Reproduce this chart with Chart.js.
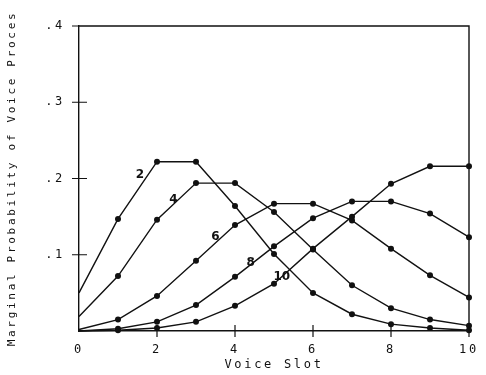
<!DOCTYPE html>
<html>
<head>
<meta charset="utf-8">
<script src="https://cdn.jsdelivr.net/npm/chart.js@4.4.1/dist/chart.umd.min.js"></script>
<style>
  html, body { margin: 0; padding: 0; background: #fff; }
  #wrap { width: 486px; height: 375px; position: relative; }
</style>
</head>
<body>
<div id="wrap"><canvas id="c" width="486" height="375"></canvas></div>
<script>
// ---- data ----
const slots = [0, 1, 2, 3, 4, 5, 6, 7, 8, 9, 10];
const seriesNames = ['2', '4', '6', '8', '10'];
const s2  = [0.050, 0.147, 0.222, 0.222, 0.164, 0.101, 0.050, 0.022, 0.009, 0.004, 0.001];
const s4  = [0.019, 0.072, 0.146, 0.194, 0.194, 0.156, 0.107, 0.060, 0.030, 0.015, 0.007];
const s6  = [0.002, 0.015, 0.046, 0.092, 0.139, 0.167, 0.167, 0.145, 0.108, 0.073, 0.044];
const s8  = [0.000, 0.003, 0.012, 0.034, 0.071, 0.111, 0.148, 0.170, 0.170, 0.154, 0.123];
const s10 = [0.000, 0.001, 0.004, 0.012, 0.033, 0.062, 0.108, 0.150, 0.193, 0.216, 0.216];
const xTicks = [0, 2, 4, 6, 8, 10];
const yTicks = [0.1, 0.2, 0.3, 0.4];
const xTitle = 'Voice Slot';
const yTitle = 'Marginal Probability of Voice Proces';

// label anchors for the curve labels (data coordinates)
const curveLabelX = [1.56, 2.42, 3.50, 4.40, 5.20];
const curveLabelY = [0.205, 0.172, 0.124, 0.089, 0.071];

const INK = '#111';
const allSeries = [s2, s4, s6, s8, s10];

const datasets = allSeries.map((vals, i) => ({
  label: seriesNames[i],
  data: slots.map((x, j) => ({ x: x, y: vals[j] })),
  borderColor: INK,
  backgroundColor: INK,
  borderWidth: 1.4,
  pointRadius: slots.map(x => x === 0 ? 0 : 3),
  pointBackgroundColor: INK,
  pointBorderColor: INK,
  pointBorderWidth: 0,
  tension: 0,
  clip: false
}));

const spacingPlugin = {
  id: 'spacing',
  beforeDraw(chart) {
    chart.ctx.letterSpacing = '2.7px';
  }
};

const framePlugin = {
  id: 'frame',
  afterDraw(chart) {
    const { ctx, chartArea: a, scales } = chart;
    ctx.save();
    ctx.letterSpacing = '0px';
    ctx.strokeStyle = INK;
    ctx.lineWidth = 1.4;
    ctx.beginPath();
    ctx.moveTo(a.left, a.top);
    ctx.lineTo(a.right, a.top);
    ctx.lineTo(a.right, a.bottom);
    ctx.stroke();
    ctx.lineWidth = 1.2;
    ctx.beginPath();
    yTicks.forEach(v => {
      const py = scales.y.getPixelForValue(v);
      ctx.moveTo(a.left - 7, py);
      ctx.lineTo(a.left + (v >= 0.4 ? 0 : 8), py);
    });
    xTicks.forEach(v => {
      if (v === 0) return;
      const px = scales.x.getPixelForValue(v);
      ctx.moveTo(px, a.bottom + 6);
      ctx.lineTo(px, a.bottom - (v >= 10 ? 0 : 6));
    });
    ctx.stroke();
    // curve labels
    ctx.fillStyle = INK;
    ctx.font = 'bold 12px "DejaVu Sans"';
    ctx.textAlign = 'center';
    ctx.textBaseline = 'middle';
    seriesNames.forEach((n, i) => {
      ctx.fillText(n, scales.x.getPixelForValue(curveLabelX[i]), scales.y.getPixelForValue(curveLabelY[i]));
    });
    ctx.restore();
  }
};

new Chart(document.getElementById('c'), {
  type: 'line',
  data: { datasets },
  plugins: [spacingPlugin, framePlugin],
  options: {
    responsive: false,
    animation: false,
    devicePixelRatio: 1,
    layout: { padding: { left: 0, right: 17, top: 26, bottom: 0 } },
    plugins: { legend: { display: false }, tooltip: { enabled: false } },
    scales: {
      x: {
        type: 'linear',
        min: 0, max: 10,
        afterBuildTicks(s) { s.ticks = xTicks.map(v => ({ value: v })); },
        afterFit(s) { s.height = 44; },
        grid: { display: false },
        border: { display: true, color: INK, width: 1.4 },
        ticks: {
          color: INK, padding: 4, maxRotation: 0, autoSkip: false,
          font: { family: '"DejaVu Sans Mono"', size: 12 },
          callback: v => String(v)
        },
        title: {
          display: true, text: xTitle, color: INK,
          font: { family: '"DejaVu Sans Mono"', size: 12 },
          padding: { top: 0, bottom: 3 }
        }
      },
      y: {
        type: 'linear',
        min: 0, max: 0.4,
        afterBuildTicks(s) { s.ticks = yTicks.map(v => ({ value: v })); },
        afterFit(s) { s.width = 79; },
        grid: { display: false },
        border: { display: true, color: INK, width: 1.4 },
        ticks: {
          color: INK, padding: 6, autoSkip: false,
          font: { family: '"DejaVu Sans Mono"', size: 12 },
          callback: v => '.' + Math.round(v * 10)
        },
        title: {
          display: true, text: yTitle, color: INK,
          font: { family: '"DejaVu Sans Mono"', size: 11 },
          padding: { top: 6, bottom: 0 }
        }
      }
    }
  }
});
</script>
</body>
</html>
